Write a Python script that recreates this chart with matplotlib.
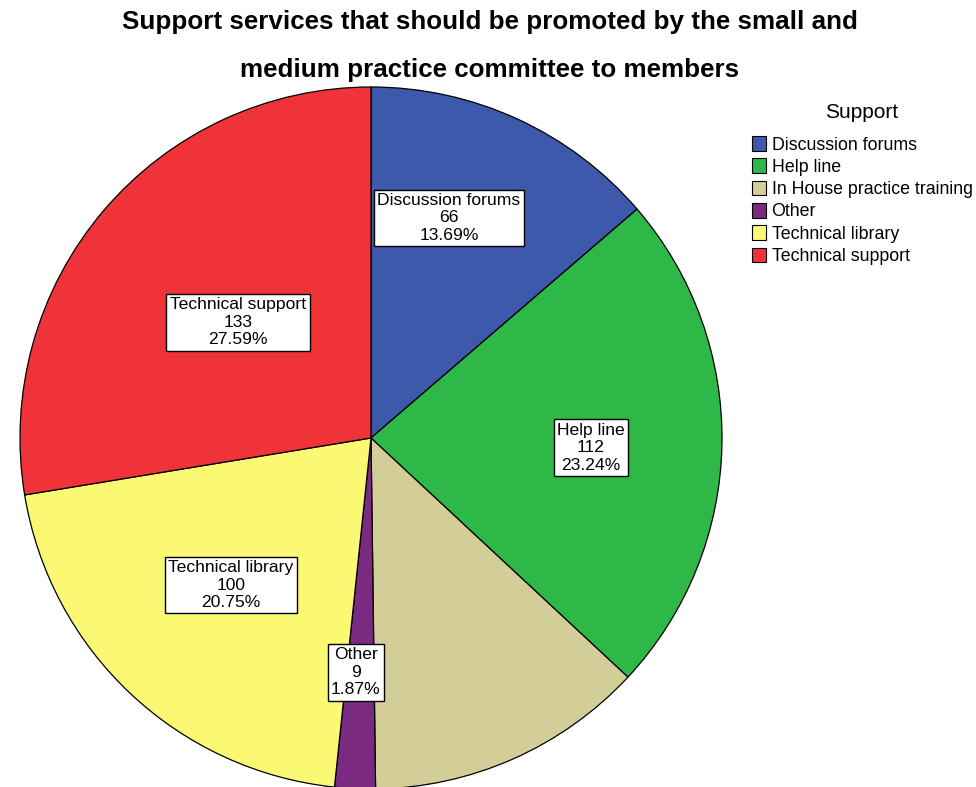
import matplotlib
matplotlib.use("Agg")
import matplotlib.pyplot as plt

plt.rcParams['font.family'] = ['Liberation Sans', 'DejaVu Sans']

# data
categories = ['Discussion forums', 'Help line', 'In House practice training',
              'Other', 'Technical library', 'Technical support']
counts = [66, 112, 62, 9, 100, 133]
colors = ['#3E58AC', '#2EB848', '#D3CE97', '#7B2A81', '#FBF873', '#EF3338']
show_label = [True, True, False, True, True, True]
# label box centres, in units of the pie radius
label_pos = [(0.222, 0.627), (0.627, -0.028), (0.3, -0.5),
             (-0.043, -0.667), (-0.399, -0.419), (-0.379, 0.330)]

total = sum(counts)

fig = plt.figure(figsize=(9.76, 7.87), dpi=100)
ax = fig.add_axes([20/976, -2/787, 702/976, 702/787])

wedges, _ = ax.pie(counts, colors=colors, startangle=90, counterclock=False,
                   radius=1, wedgeprops=dict(edgecolor='black', linewidth=0.9))
ax.set_xlim(-1, 1)
ax.set_ylim(-1, 1)
ax.set_aspect('equal')
ax.axis('off')

for cat, n, show, (x, y) in zip(categories, counts, show_label, label_pos):
    if not show:
        continue
    pct = 100 * n / total
    ax.text(x, y, '%s\n%d\n%.2f%%' % (cat, n, pct),
            ha='center', va='center', fontsize=12.6, linespacing=1.2,
            bbox=dict(boxstyle='square,pad=0.2', facecolor='white',
                      edgecolor='black', linewidth=1.0))

fig.text(490/976, 1 - 22/787, 'Support services that should be promoted by the small and',
         ha='center', va='center', fontsize=18.7, fontweight='bold')
fig.text(490/976, 1 - 70/787, 'medium practice committee to members',
         ha='center', va='center', fontsize=18.7, fontweight='bold')

fig.text(862/976, 1 - 112/787, 'Support', ha='center', va='center', fontsize=15)
leg = fig.legend(wedges, categories, loc='upper left',
                 bbox_to_anchor=(752/976, 1 - 136/787), frameon=False,
                 fontsize=12.8, handlelength=0.8,
                 handleheight=0.9, handletextpad=0.3, labelspacing=0.27,
                 borderaxespad=0, borderpad=0)
for h in leg.legend_handles:
    h.set_linewidth(0.8)

fig.savefig('out.png', dpi=100)
